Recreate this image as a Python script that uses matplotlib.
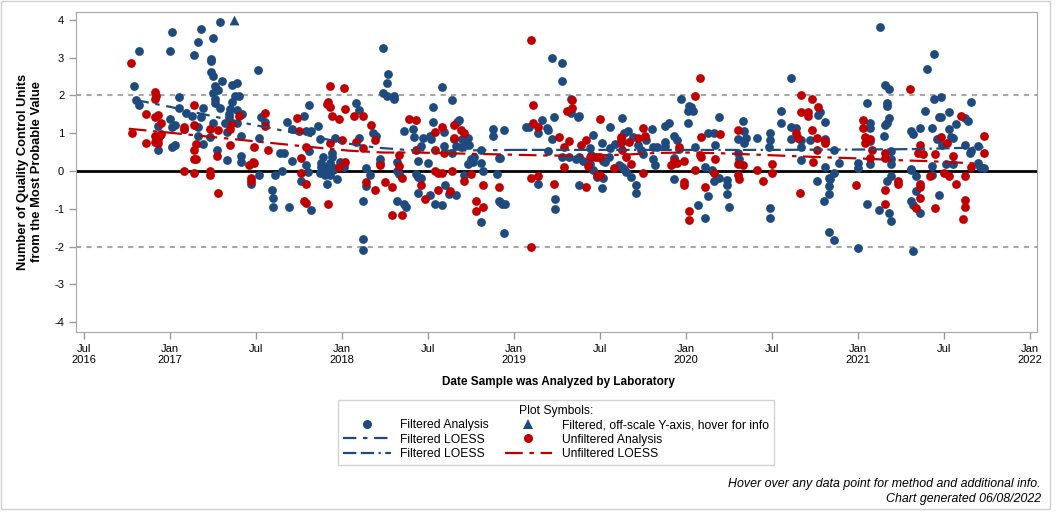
import matplotlib.pyplot as plt
import numpy as np
from matplotlib.lines import Line2D
from matplotlib.patches import Rectangle

plt.rcParams['font.family'] = ['Liberation Sans', 'DejaVu Sans']
plt.rcParams['axes.unicode_minus'] = False

BLUE = '#1f4a7e'
RED = '#c00000'

# (decimal year, units from the most probable value)
filtered_pts = [
    # 2016 / 2017
    (2017.29, 3.94), (2017.01, 3.67), (2017.18, 3.75), (2017.16, 3.41), (2017.25, 3.51), (2016.82, 3.17),
    (2017.00, 3.17), (2017.14, 3.06), (2017.24, 2.96), (2017.24, 2.90), (2017.51, 2.67), (2017.24, 2.63),
    (2017.25, 2.52), (2017.30, 2.38), (2017.36, 2.27), (2017.39, 2.32), (2016.79, 2.24), (2017.26, 2.25),
    (2017.28, 2.15), (2017.25, 2.06), (2017.38, 1.99), (2017.40, 1.99), (2017.36, 1.83), (2016.80, 1.88),
    (2016.82, 1.74), (2017.05, 1.95), (2017.26, 1.90), (2017.26, 1.79), (2017.29, 1.67), (2017.19, 1.67),
    (2017.05, 1.67), (2017.35, 1.65), (2017.39, 1.62), (2017.09, 1.53), (2017.13, 1.47), (2017.18, 1.42),
    (2017.42, 1.51), (2017.34, 1.51), (2017.34, 1.42), (2017.32, 1.26), (2017.00, 1.38), (2016.93, 1.19),
    (2017.01, 1.17), (2017.03, 1.21), (2017.08, 1.12), (2017.16, 1.17), (2017.25, 1.28), (2017.39, 1.26),
    (2017.33, 1.03), (2017.23, 0.89), (2017.41, 0.94), (2017.19, 0.72), (2017.01, 0.64), (2017.03, 0.68),
    (2016.93, 0.57), (2017.27, 0.56), (2017.33, 0.29), (2017.41, 0.41), (2017.41, 0.23), (2017.16, 0.93),
    (2017.53, 1.44), (2017.52, 0.87), (2017.55, 1.30), (2017.64, 0.47), (2017.66, 0.49), (2017.68, 1.29),
    (2017.71, 1.11), (2017.78, 1.47), (2017.81, 1.76), (2017.79, 1.07), (2017.82, 1.07), (2017.81, 0.52),
    (2017.71, 0.26), (2017.65, 0.00), (2017.52, -0.11), (2017.61, -0.11), (2017.79, 0.15), (2017.80, -0.02),
    (2017.76, -0.25), (2017.47, -0.35), (2017.59, -0.51), (2017.60, -0.72), (2017.60, -0.94), (2017.69, -0.96),
    (2017.82, -1.02),
    # 2018
    (2018.24, 3.25), (2018.27, 2.56), (2018.26, 2.33), (2018.24, 2.06), (2018.26, 1.98), (2018.30, 1.99),
    (2018.30, 1.90), (2018.58, 2.22), (2018.64, 1.88), (2018.53, 1.69), (2018.08, 1.79), (2018.10, 1.62),
    (2017.86, 1.18), (2017.87, 0.84), (2017.96, 0.87), (2018.10, 0.87), (2018.18, 1.00), (2018.20, 0.93),
    (2018.36, 1.07), (2018.41, 1.10), (2018.42, 0.89), (2018.47, 0.87), (2018.46, 0.66), (2018.51, 0.93),
    (2018.52, 0.84), (2018.53, 1.30), (2018.59, 1.03), (2018.59, 0.66), (2018.68, 1.35), (2018.67, 1.30),
    (2018.65, 0.84), (2018.70, 0.84), (2018.73, 0.87), (2018.69, 0.63), (2018.72, 0.70), (2018.74, 0.70),
    (2018.66, 0.66), (2018.88, 1.10), (2018.88, 0.94), (2018.94, 1.09), (2018.64, 0.49), (2018.81, 0.56),
    (2018.75, 0.31), (2018.77, 0.38), (2018.76, 0.24), (2018.73, 0.18), (2018.81, 0.22), (2018.91, 0.34),
    (2018.92, 0.34), (2018.82, 0.01), (2018.90, -0.08), (2018.71, -0.11), (2018.44, 0.26), (2018.50, 0.22),
    (2018.32, 0.24), (2018.32, 0.00), (2018.33, -0.08), (2018.22, 0.31), (2018.22, 0.22), (2018.14, 0.08),
    (2018.165, -0.11), (2018.14, -0.40), (2018.12, -0.78), (2018.12, -1.81), (2018.12, -2.09),
    (2017.89, 0.38), (2017.88, 0.20), (2017.88, 0.11), (2017.91, 0.11), (2017.93, 0.20), (2017.94, 0.38),
    (2017.94, 0.11), (2017.92, -0.02), (2017.93, -0.11), (2017.90, -0.11), (2017.87, -0.06), (2017.91, -0.35),
    (2017.97, -0.22), (2017.99, 0.25), (2018.01, 0.11), (2017.94, 0.47), (2017.90, 0.04), (2017.95, 0.03),
    (2018.43, -0.08), (2018.44, -0.15), (2018.46, -0.19), (2018.44, -0.57), (2018.60, -0.38), (2018.62, -0.61),
    (2018.66, -0.64), (2018.51, -0.64), (2018.54, -0.87), (2018.58, -0.91), (2018.32, -0.80), (2018.36, -0.87),
    (2018.37, -0.94), (2018.81, -1.35), (2018.94, -1.64), (2018.91, -0.79), (2018.92, -0.82), (2018.93, -0.86),
    (2018.95, -0.88),
    # 2019
    (2019.07, 1.16), (2019.09, 1.16), (2019.16, 1.35), (2019.14, 1.00), (2019.19, 1.13), (2019.20, 1.09),
    (2019.22, 2.98), (2019.23, 1.42), (2019.22, 0.84), (2019.20, 0.53), (2019.14, -0.33), (2019.24, -0.75),
    (2019.24, -1.00),
    (2019.28, 2.85), (2019.28, 2.38), (2019.33, 1.90), (2019.33, 1.53), (2019.37, 1.44), (2019.38, 1.46),
    (2019.28, 0.38), (2019.32, 0.36), (2019.36, 0.33), (2019.38, 0.38), (2019.38, -0.38), (2019.40, 0.27),
    (2019.44, 0.61), (2019.45, 0.42), (2019.46, 0.96), (2019.51, 0.75), (2019.44, 0.19), (2019.46, 0.04),
    (2019.48, -0.15), (2019.52, -0.19), (2019.52, 0.27), (2019.53, 0.24), (2019.55, 0.38), (2019.56, 1.16),
    (2019.56, 0.60), (2019.51, -0.46), (2019.59, 0.72), (2019.63, 1.40), (2019.64, 1.02), (2019.66, 1.07),
    (2019.62, 0.86), (2019.62, 0.73), (2019.61, 0.15), (2019.63, 0.11), (2019.64, 0.06), (2019.65, -0.03),
    (2019.68, -0.17), (2019.69, 0.91), (2019.71, -0.38), (2019.71, -0.59), (2019.72, 0.70), (2019.74, 0.56),
    (2019.75, 0.45), (2019.77, 0.82), (2019.80, 1.10), (2019.81, 0.63), (2019.83, 0.63), (2019.81, 0.33),
    (2019.82, 0.15), (2019.88, 1.19), (2019.90, 1.28), (2019.88, 0.77), (2019.88, 0.66), (2019.93, 0.94),
    (2019.95, 0.82), (2019.93, -0.22), (2019.93, 0.34), (2019.93, 0.20), (2019.96, 0.59), (2019.97, 1.92),
    # 2020
    (2020.01, 1.60), (2020.03, 1.62), (2020.04, 1.58), (2020.02, 1.72), (2020.03, 1.70), (2020.01, 1.26),
    (2020.05, 0.63), (2020.07, -0.91), (2020.11, -1.23), (2020.11, 0.11), (2020.13, -0.66), (2020.13, 1.00),
    (2020.16, 1.00), (2020.17, 0.68), (2020.19, 1.42), (2020.16, -0.27), (2020.19, -0.19), (2020.15, 0.03),
    (2020.24, -0.24), (2020.24, -0.36), (2020.24, -0.61), (2020.25, -0.94), (2020.30, 0.47), (2020.31, 0.33),
    (2020.30, 0.84), (2020.33, 1.32), (2020.34, 1.05), (2020.34, 0.73), (2020.35, 0.87), (2020.41, 0.87),
    (2020.49, 1.00), (2020.49, 0.82), (2020.48, 0.64), (2020.49, -0.99), (2020.49, -1.23), (2020.55, 1.58),
    (2020.55, 1.26), (2020.61, 2.46), (2020.61, 1.17), (2020.61, 0.84), (2020.64, 1.15),
    (2020.81, 1.30), (2020.78, 1.56), (2020.77, 1.49), (2020.67, 0.82), (2020.67, 0.64), (2020.72, 0.82),
    (2020.81, 0.84), (2020.67, 0.29), (2020.86, 0.56), (2020.89, 0.20), (2020.81, 0.10), (2020.86, -0.04),
    (2020.83, -0.19), (2020.84, -0.20), (2020.83, -0.40), (2020.83, -0.61), (2020.76, -0.26), (2020.80, -0.79),
    (2020.83, -1.62), (2020.86, -1.82), (2021.00, 0.20), (2021.00, 0.08),
    # 2021
    (2021.13, 3.81), (2021.44, 3.09), (2021.40, 2.69), (2021.16, 2.27), (2021.18, 2.16), (2021.44, 1.90),
    (2021.48, 1.95), (2021.05, 1.79), (2021.17, 1.72), (2021.17, 1.79), (2021.39, 1.58), (2021.66, 1.82),
    (2021.18, 1.40), (2021.16, 1.21), (2021.17, 1.26), (2021.15, 0.94), (2021.07, 1.26), (2021.07, 1.14),
    (2021.07, 0.80), (2021.05, -0.86), (2021.00, -2.04), (2021.07, 0.19), (2021.19, 0.52), (2021.19, 0.33),
    (2021.19, 0.19), (2021.17, -0.25), (2021.19, -0.13), (2021.12, -1.03), (2021.18, -1.12), (2021.19, -1.33),
    (2021.31, 1.07), (2021.32, 0.98), (2021.36, 1.13), (2021.31, 0.06), (2021.31, 0.03), (2021.34, -0.13),
    (2021.34, -0.54), (2021.31, -0.79), (2021.32, -0.89), (2021.36, -1.12), (2021.32, -2.11), (2021.43, 1.13),
    (2021.46, 0.84), (2021.47, 1.42), (2021.48, 1.42), (2021.53, 1.55), (2021.57, 1.24), (2021.53, 1.12),
    (2021.54, 0.91), (2021.55, 0.88), (2021.49, 0.70), (2021.43, 0.13), (2021.43, -0.11), (2021.47, -0.64),
    (2021.51, 0.19), (2021.55, 0.19), (2021.62, 1.40), (2021.64, 1.32), (2021.62, 0.68), (2021.66, 0.52),
    (2021.65, 0.49), (2021.70, 0.66), (2021.70, 0.22), (2021.71, 0.10), (2021.73, 0.07),
]

offscale_pts = [(2017.37, 4.0)]

unfiltered_pts = [
    # 2016 / 2017
    (2016.77, 2.85), (2016.91, 2.08), (2016.92, 1.99), (2016.91, 1.91), (2017.14, 1.74), (2016.86, 1.50),
    (2016.91, 1.44), (2016.93, 1.48), (2016.95, 1.28), (2017.08, 1.16), (2017.08, 1.12), (2017.14, 1.21),
    (2016.78, 1.00), (2016.86, 0.73), (2016.91, 0.93), (2016.94, 0.96), (2016.95, 0.98), (2016.93, 0.84),
    (2016.91, 0.77), (2016.93, 0.73), (2017.15, 0.71), (2017.14, 0.56), (2017.15, 0.31), (2017.14, 0.31),
    (2017.23, 1.12), (2017.28, 1.09), (2017.35, 1.10), (2017.36, 1.28), (2017.35, 0.70), (2017.40, 1.46),
    (2017.27, 0.39), (2017.08, 0.00), (2017.14, -0.06), (2017.23, 0.01), (2017.23, -0.11), (2017.28, -0.59),
    (2017.55, 1.53), (2017.55, 1.19), (2017.49, 0.63), (2017.57, 0.55), (2017.46, 0.16), (2017.48, 0.25),
    (2017.49, 0.20), (2017.47, -0.19), (2017.47, -0.26), (2017.74, 1.40), (2017.75, 1.06), (2017.79, 0.63),
    (2017.76, 0.34), (2017.76, -0.04), (2017.79, -0.34), (2017.78, -0.79), (2017.79, -0.85),
    # 2018
    (2017.93, 2.24), (2018.01, 2.19), (2017.92, 1.83), (2017.93, 1.70), (2017.91, 1.77), (2017.94, 1.47),
    (2017.98, 1.37), (2018.02, 1.63), (2018.07, 1.47), (2018.12, 1.45), (2018.17, 1.21), (2018.19, 0.82),
    (2018.08, 0.77), (2018.12, 0.61), (2018.00, 0.82), (2017.93, 0.73), (2017.98, 0.11), (2018.02, 0.23),
    (2018.14, -0.29), (2018.19, -0.51), (2018.22, 0.16), (2018.25, -0.29), (2018.29, -0.42), (2017.92, -0.86),
    (2018.33, 0.42), (2018.33, 0.13), (2018.35, -0.19), (2018.29, -1.17), (2018.35, -1.17), (2018.39, 1.37),
    (2018.43, 1.34), (2018.43, 0.57), (2018.46, -0.38), (2018.48, -0.73), (2018.54, 1.03), (2018.54, 0.56),
    (2018.58, 1.16), (2018.59, 0.47), (2018.54, -0.01), (2018.56, -0.04), (2018.58, -0.04), (2018.56, -0.49),
    (2018.64, 0.00), (2018.63, -0.52), (2018.65, 1.22), (2018.65, 0.87), (2018.69, 1.09), (2018.71, 1.00),
    (2018.71, -0.27), (2018.75, -0.09), (2018.82, -0.38), (2018.78, -0.78), (2018.78, -1.07), (2018.82, -0.96),
    (2018.91, -0.41),
    # 2019
    (2019.10, 3.46), (2019.11, 1.74), (2019.11, 1.26), (2019.14, 1.17), (2019.10, -0.19), (2019.14, -0.13),
    (2019.10, -2.02), (2019.23, -0.35), (2019.34, 1.88), (2019.34, 1.66), (2019.31, 1.60), (2019.50, 1.37),
    (2019.26, 0.89), (2019.32, 0.79), (2019.29, 0.63), (2019.39, 0.68), (2019.42, 0.82), (2019.29, 0.10),
    (2019.43, 0.13), (2019.42, -0.41), (2019.44, 0.37), (2019.47, 0.36), (2019.49, 0.38), (2019.50, 0.38),
    (2019.48, -0.11), (2019.50, -0.11), (2019.58, 0.08), (2019.62, 0.91), (2019.62, 0.77), (2019.63, 0.56),
    (2019.65, 0.38), (2019.67, 0.76), (2019.68, 0.18), (2019.72, 0.87), (2019.75, 1.13), (2019.76, 0.93),
    (2019.75, -0.06), (2019.91, 0.15), (2019.93, 0.27), (2019.95, 0.20), (2019.96, 0.63), (2019.99, 0.27),
    (2019.99, -0.29), (2019.99, -0.38),
    # 2020
    (2020.02, -1.07), (2020.02, -1.30), (2020.05, 1.98), (2020.05, 0.04), (2020.08, 2.45), (2020.09, 0.89),
    (2020.08, 0.43), (2020.09, 0.36), (2020.11, -0.41), (2020.16, -0.04), (2020.17, 0.31), (2020.20, 0.97),
    (2020.30, 1.09), (2020.30, 0.19), (2020.33, 0.15), (2020.30, -0.10), (2020.31, -0.22), (2020.41, 0.04),
    (2020.45, -0.27), (2020.50, 0.19), (2020.50, -0.04),
    (2020.67, 2.00), (2020.73, 1.90), (2020.67, 1.56), (2020.71, 1.56), (2020.71, 1.47), (2020.77, 1.69),
    (2020.73, 1.09), (2020.64, 1.00), (2020.65, 0.87), (2020.76, 0.87), (2020.81, 0.80), (2020.81, 0.73),
    (2020.76, 0.57), (2020.74, 0.23), (2020.66, -0.59), (2020.99, -0.38),
    # 2021
    (2021.03, 1.35), (2021.03, 1.13), (2021.04, 0.89), (2021.04, 0.75), (2021.07, 0.86), (2021.08, 0.57),
    (2021.07, 0.34), (2021.16, 0.47), (2021.16, 0.34), (2021.16, -0.51), (2021.16, -0.88), (2021.23, -0.26),
    (2021.23, -0.33), (2021.30, 2.16), (2021.36, 0.70), (2021.35, 0.47), (2021.38, 0.44), (2021.36, -0.33),
    (2021.36, -0.41), (2021.36, -0.70), (2021.34, -0.98), (2021.42, -0.13), (2021.45, 0.44), (2021.45, -0.99),
    (2021.48, 0.89), (2021.52, 0.73), (2021.50, -0.04), (2021.53, -0.13), (2021.55, 0.40), (2021.57, -0.33),
    (2021.60, 1.47), (2021.62, -0.13), (2021.66, 0.12), (2021.62, -0.77), (2021.62, -0.96), (2021.61, -1.28),
    (2021.73, 0.94), (2021.73, 0.47),
]

# LOESS curves
loess_filtered_a = [(2016.80, 1.88), (2017.00, 1.70), (2017.20, 1.50), (2017.40, 1.30), (2017.60, 1.12),
                    (2017.85, 0.90), (2018.00, 0.75), (2018.20, 0.62), (2018.40, 0.55), (2018.60, 0.54),
                    (2018.80, 0.55), (2019.00, 0.56)]
loess_filtered_b = [(2019.00, 0.56), (2019.50, 0.56), (2020.00, 0.56), (2020.50, 0.56), (2021.00, 0.57),
                    (2021.30, 0.58), (2021.50, 0.60), (2021.73, 0.63)]
loess_unfiltered = [(2016.76, 1.12), (2017.03, 1.00), (2017.38, 0.84), (2017.81, 0.64), (2018.04, 0.54),
                    (2018.24, 0.49), (2018.43, 0.49), (2018.82, 0.45), (2019.21, 0.41), (2019.44, 0.41),
                    (2019.63, 0.43), (2019.83, 0.48), (2020.02, 0.49), (2020.21, 0.47), (2020.60, 0.40),
                    (2020.83, 0.36), (2021.03, 0.33), (2021.22, 0.29), (2021.42, 0.26), (2021.69, 0.20)]

tick_pos = [2016.5, 2017, 2017.5, 2018, 2018.5, 2019, 2019.5, 2020, 2020.5, 2021, 2021.5, 2022]
tick_lab = ['Jul\n2016', 'Jan\n2017', 'Jul', 'Jan\n2018', 'Jul', 'Jan\n2019', 'Jul', 'Jan\n2020',
            'Jul', 'Jan\n2021', 'Jul', 'Jan\n2022']

dash_a = (0, (6, 3, 2, 3))
dash_b = (0, (6, 2, 6, 2, 1, 2))
dash_red = (0, (8, 3, 2, 3))

fig = plt.figure(figsize=(10.56, 5.18), dpi=100)
fig.patches.append(Rectangle((1 / 1056, 1 - 509 / 518), 1049 / 1056, 508 / 518, transform=fig.transFigure,
                             fill=False, edgecolor='#d0d0d0', lw=1))
ax = fig.add_axes([76 / 1056, 1 - 332 / 518, 961 / 1056, 320 / 518])

ax.axhline(0, color='black', lw=2, zorder=1)
for yy in (2, -2):
    ax.axhline(yy, color='#a8a8a8', lw=1.5, ls=(0, (2.5, 2.5)), zorder=1)

x, y = np.array(filtered_pts).T
ax.scatter(x, y, s=40, color=BLUE, lw=0, zorder=3)
x, y = np.array(unfiltered_pts).T
ax.scatter(x, y, s=40, color=RED, lw=0, zorder=3)
x, y = np.array(offscale_pts).T
ax.scatter(x, y, s=50, marker='^', color=BLUE, lw=0, zorder=3)

x, y = np.array(loess_filtered_a).T
ax.plot(x, y, color=BLUE, lw=1.6, ls=dash_a, zorder=4)
x, y = np.array(loess_filtered_b).T
ax.plot(x, y, color=BLUE, lw=1.6, ls=dash_b, zorder=4)
x, y = np.array(loess_unfiltered).T
ax.plot(x, y, color=RED, lw=1.6, ls=dash_red, zorder=4)

ax.set_xlim(2016.453, 2022.041)
ax.set_ylim(-4.26, 4.21)
ax.set_yticks(range(-4, 5))
ax.set_xticks(tick_pos)
ax.set_xticklabels(tick_lab)
ax.tick_params(axis='both', colors='#999999', labelcolor='black', labelsize=8, length=5, width=1)
for sp in ax.spines.values():
    sp.set_color('#a6a6a6')

fig.text(30 / 1056, 1 - 172 / 518, 'Number of Quality Control Units\nfrom the Most Probable Value',
         rotation=90, ha='center', va='center', fontsize=9.3, fontweight='bold')
fig.text(558 / 1056, 1 - 382 / 518, 'Date Sample was Analyzed by Laboratory',
         ha='center', va='center', fontsize=8.5, fontweight='bold')

handles = [
    Line2D([], [], marker='o', ls='', color=BLUE, ms=6.5, mew=0),
    Line2D([], [], color=BLUE, lw=1.6, ls=dash_a),
    Line2D([], [], color=BLUE, lw=1.6, ls=dash_b),
    Line2D([], [], marker='^', ls='', color=BLUE, ms=7, mew=0),
    Line2D([], [], marker='o', ls='', color=RED, ms=6.5, mew=0),
    Line2D([], [], color=RED, lw=1.6, ls=dash_red),
]
labels = ['Filtered Analysis', 'Filtered LOESS', 'Filtered LOESS',
          'Filtered, off-scale Y-axis, hover for info', 'Unfiltered Analysis', 'Unfiltered LOESS']
leg = fig.legend(handles, labels, ncol=2, loc='upper center', bbox_to_anchor=(556 / 1056, 1 - 400 / 518),
                 title='Plot Symbols:', fontsize=8.75, title_fontsize=8.75, frameon=True, fancybox=False,
                 edgecolor='#c8c8c8', handlelength=3.9, columnspacing=1.3, borderpad=0.4, labelspacing=0.2,
                 handletextpad=0.8, borderaxespad=0)
leg.get_frame().set_linewidth(1)

fig.text(1041 / 1056, 1 - 484 / 518, 'Hover over any data point for method and additional info.',
         ha='right', va='center', fontsize=8.9, style='italic')
fig.text(1041 / 1056, 1 - 499 / 518, 'Chart generated 06/08/2022',
         ha='right', va='center', fontsize=8.9, style='italic')

fig.savefig('out.png', dpi=100)
